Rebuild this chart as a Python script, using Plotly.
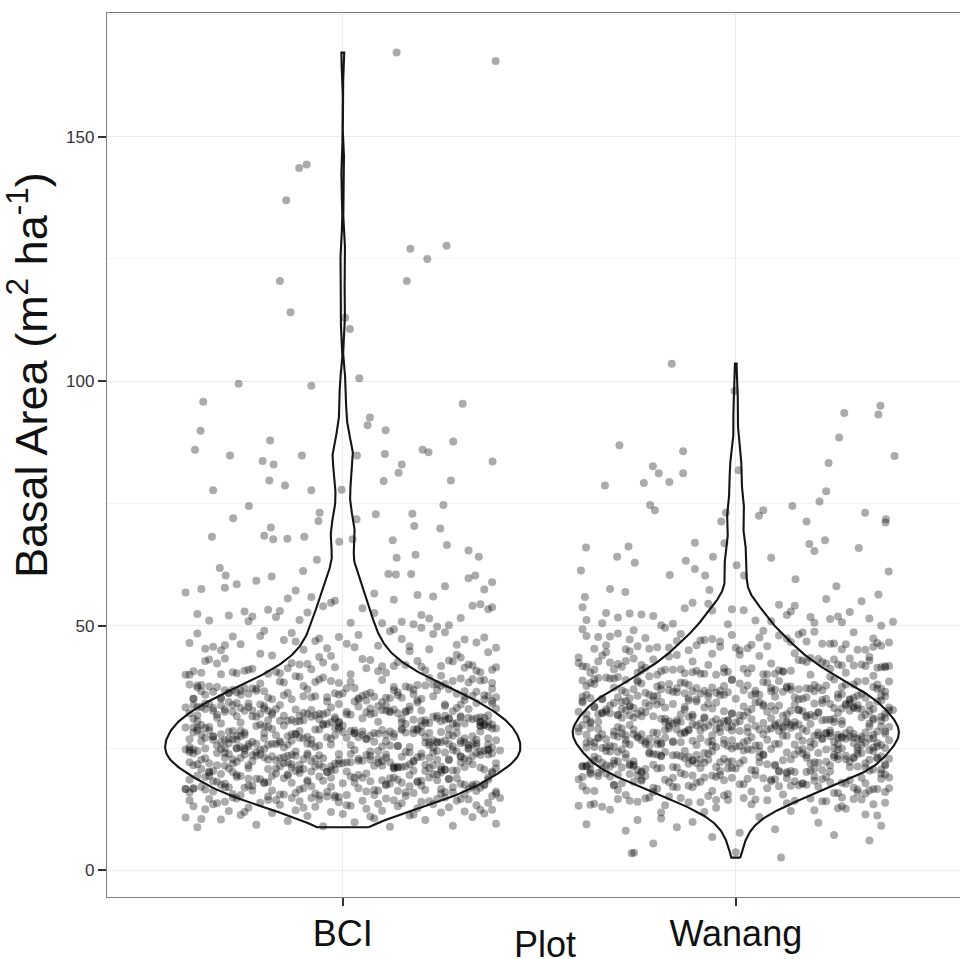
import numpy as np
import plotly.graph_objects as go

# ---------------- data ----------------
CATEGORIES = ["BCI", "Wanang"]
Y_TICKS = [0, 50, 100, 150]

# bulk of BCI quadrats (basal area, tenths of m2/ha)
BCI_CORE_TENTHS = [int(v) for v in """
88 89 90 91 93 95 98
101 103 104 106 108 109 111 112 113 115 116 117 118 119 120 121 122 123 124 125 126 127 128 129 130 131 131 132 133 134
135 135 136 137 138 138 139 140 140 141 142 142 143 143 144 145 145 146 146 147 147 148 148 149 149 105 110 114 119 124
128 133 137 141 144 146 148 149
152 157 151 163 168 155 171 159 174 166 180 153 185 177 162 189 191 170 158 183 195 164 150 176 187 198 161 172 181 156
193 167 184 178 154 190 169 196 160 186 175 182 165 199 173 188 157 194 179 192
151 162 170 184 197 155 166 177 189 158 173 182 193 160 168 186 152 179 195 164 171 188 156 175 183 198 163 190 169 154
181 196 172 159 185 176 191 167 153 180 194 165 187 178 161 174 199 170 185 192
157 168 179 190 163 176 187 154 182 195 171 159 188 166 177 193 161 184 173 197 189 180 175
203 218 241 226 209 234 247 212 221 238 205 229 244 215 232 201 224 249 210 236 219 243 207 227 240 213 231 246 202 222
237 216 248 208 230 242 225 211 235 204 220 245 228 214 239 206 233 217 223 246
200 213 227 241 208 219 236 249 204 223 232 245 211 226 238 202 216 229 243 209 221 234 247 206 218 231 240 214 225 237
201 212 228 244 207 220 233 248 205 217 230 242 210 224 239 203 215 235 246 222
219 242 206 231 214 248 225 201 237 210 244 228 216 203 233 221 240 208 226 247 212 235 204 229 243 217 238 209 223 245
202 230 215 241 224 207 236 249 211 227 220 239 205 232 218 246 213 234 200 226
211 224 237 208 243 219 230 202 246 215 228 234 205 239 221 217
252 267 281 259 294 273 255 288 262 277 298 251 284 269 290 257 275 263 296 280 254 271 286 260 293 266 278 299 253 283
270 258 291 276 264 287 256 272 295 261 282 268 289 250 279 265 297 274 285 258
261 274 288 252 266 293 279 255 283 270 297 259 276 290 263 251 285 272 295 257 268 281 299 264 277 254 289 271 294 260
282 267 253 286 275 298 262 278 291 256 269 284 250 273 296 265 280 258 287 292
270 255 284 263 298 276 251 289 267 281 258 294 273 260 286 252 279 265 297 271 283 256 290 268 277 254 292 262 285 274
259 296 280 266 253 288 275 261 293 269 282 257 299 272 264 287 278 250 291 284
263 277 252 286 270 295 259 281 267 290 274 256
301 318 335 309 327 344 312 322 339 305 331 316 348 303 325 337 311 320 342 307 329 314 333 346 302 323 338 310 319 341
306 328 315 334 300 321 345 313 326 336 308 317 343 304 330 324 340 311 332 347
303 316 329 342 307 320 333 300 314 327 340 309 322 335 305 318 331 344 302 313 326 339 308 321 334 347 304 317 330 311
324 337 301 315 328 341 306 319 332 310 323 336 345 312 325 338 303 316 330 349
305 319 332 308 321 300 314 327 339 302 311 324 336 306 317 329 341 304 313 326 310 322 334 301 318 307 325 315 337 303
320 312 328 309 331 316 323
351 368 384 357 373 390 354 362 379 396 352 366 381 358 371 387 355 363 376 393 350 369 383 359 374 353 361 378 389 356
365 372 385 398 352 360 377 367 391 354 364 380 357 370 386 351 362 375 358 382
353 366 379 394 356 363 372 388 350 368 381 355 361 376 359 370 384 352 364 373 397 357 366 378 351 360 387 354 369 374
392 358 363 380 350 367 371 385 353 365 377 356 362 389 359 375 352 368 383
402 417 431 408 424 441 405 413 428 400 419 436 410 426 403 415 433 407 421 446 401 412 429 404 418 438 409 423 406 414
432 400 420 411 427 443 403 416 435 408 422 405 413 430 401 418 425 448 407 410 439 404 415 421 428
452 468 481 457 473 490 455 463 478 496 451 466 484 459 471 487 454 462 476 493 450 469 483 458 474 453 461 479 489 456
465 472 485 498 460 477
503 518 534 509 526 541 512 521 538 505 530 547 515 524 501 519 536 508 527 544 511 522 533 506 516 540 529
553 568 581 559 574 592 556 563 578 597 551 566 585 560 572 589 575
""".split()]

# individually read high BCI quadrats: value, horizontal jitter offset
BCI_HIGH_Y = [167.2, 165.5, 143.6, 144.3, 137.0, 127.1, 127.7, 125.0, 120.5, 120.5, 114.1, 113.0, 110.7,
              100.6, 99.5, 99.1, 95.8, 95.4, 92.6, 91.0, 90.0, 89.9, 87.9, 87.7, 86.0, 86.0, 85.5, 84.8,
              84.8, 84.8, 85.1, 83.6, 83.7, 83.0, 83.0, 81.3, 79.7, 78.7, 79.6, 79.7, 77.7, 77.7, 77.8,
              74.5, 74.7, 72.0, 73.1, 71.4, 71.8, 72.8, 72.9, 70.4, 69.9, 70.1, 68.2, 68.4, 67.7, 67.8,
              68.2, 67.2, 67.7, 67.5, 66.5, 65.4, 64.1, 63.9, 64.5, 63.5, 61.8, 60.3, 60.1, 61.2, 60.6,
              60.5, 60.6, 60.3]
BCI_HIGH_DX = [0.137, 0.389, -0.111, -0.092, -0.144, 0.172, 0.264, 0.215, 0.163, -0.160, -0.133, 0.006, 0.018,
               0.042, -0.265, -0.080, -0.355, 0.305, 0.069, 0.063, 0.109, -0.362, -0.185, 0.281, -0.376, 0.203, 0.218, -0.287,
               -0.104, 0.036, 0.107, 0.381, -0.204, -0.176, 0.150, 0.142, -0.187, -0.147, 0.104, 0.275, -0.330, -0.080, -0.003,
               -0.239, 0.256, -0.279, -0.059, -0.062, 0.035, 0.084, 0.177, 0.182, 0.248, -0.183, -0.333, -0.200, -0.177, -0.141,
               -0.098, -0.009, 0.025, 0.127, 0.265, 0.320, 0.346, 0.137, 0.185, -0.066, -0.313, -0.298, -0.181, -0.101, 0.116,
               0.135, 0.174, 0.337]

# bulk of Wanang quadrats (tenths of m2/ha)
WAN_CORE_TENTHS = [int(v) for v in """
55 61 68 72 77 81 84 88 91 94 97 99
103 109 114 118 121 124 126 128 131 133 135 136 138 139 141 142 143 144 145 146 147 148 149 112 119 127 132 137 140 144
146 148 106 123 130 135 139 142 145 147 149 134 141
153 171 186 160 178 194 157 168 183 198 151 175 189 164 180 196 159 172 187 155 169 184 199 162 177 191 152 174 188 166
181 195 158 170 185 197 163 179 192 154 176 190 167 182 198 161 173 186 193 189
156 172 185 196 163 178 191 158 175 188 199 166 181 194 169 183 197 160 177 190 174 186 195 165 180 192 171 184 198 162
179 193 176 187 170 182 196 168 189 173 185 194 178 191
204 221 238 211 229 246 207 216 233 249 202 224 241 213 230 208 219 236 244 201 226 214 239 205 222 247 210 231 218 235
203 227 243 212 220 237 206 232 248 215 225 240 209 228 245 200 217 234 223 242
206 219 233 247 211 224 238 202 216 229 243 208 221 235 249 204 213 227 240 210 223 236 201 218 231 245 207 226 239 214
200 222 234 248 209 217 230 244 205 220 237 212 228 241 203 215 232 246 225 219
210 228 243 205 219 236 201 214 231 247 208 222 239 212 226 244 203 217 234 209 225 240 206 221 237 215 229 248 202 218
233 211 227 242 204 223 238 207 220 245 213 230 216 235 224
253 270 286 259 276 293 256 265 281 298 251 273 289 262 279 295 258 268 284 254 271 290 263 277 299 252 267 283 260 274
292 257 280 266 287 250 272 296 261 278 285 255 269 291 264 282 297 275 288 294
255 268 281 294 260 273 287 251 264 277 290 257 270 283 297 253 266 279 292 259 272 285 299 262 275 288 250 267 280 293
256 269 282 295 261 274 286 252 265 278 291 258 271 284 298 263 276 289 254 287
262 279 293 257 270 286 251 266 283 297 259 274 290 254 268 281 295 261 276 292 256 271 288 250 264 280 296 258 273 285
253 269 282 299 263 277 291 255 267 284 260 275 289 252 272 287 265 278 294 270
258 273 288 252 266 281 295 261 276 290 255 269 284 263 278 292 271
302 319 335 308 325 342 305 314 331 347 301 322 338 311 328 344 306 317 333 300 320 337 309 326 343 304 315 330 346 312
323 339 307 318 334 349 303 321 336 310 327 341 313 324 340 305 316 332 345 329
304 317 331 344 309 322 336 300 313 327 340 306 319 333 347 302 315 328 342 308 321 335 301 314 326 339 311 324 337 305
318 330 343 307 320 334 348 303 316 329 341 310 323 338 312 325 346 300 332 319
311 326 340 305 318 333 347 302 315 329 343 308 321 336 300 314 327 341 306 319 332 345 303 317 330 344 309 322 337 301
313 328 342 307 320 334 348 304 316 331 310 324 339 312 325 335 303 323 318 338
352 369 385 358 375 392 355 364 380 397 351 372 388 361 378 394 356 367 383 350 370 387 359 376 353 366 381 396 362 373
389 357 368 384 354 371 390 360 377 352 365 382 398 363 374 350 368 379 386 357
354 367 380 393 359 372 386 351 364 377 390 356 369 383 353 366 379 395 358 371 384 350 363 376 389 355 368 381 361 374
387 352 365 378 357 370 392 360 373 385 351 362 375 388 354 367 380 359 372 365
353 368 382 356 371 359 376 390 351 364 379 357 370 361 374 366
402 418 433 407 424 440 404 413 429 446 401 420 436 410 426 403 416 431 443 408 422 405 414 438 400 419 427 411 434 406
421 448 409 417 430 402 412 425 441 404 415 423 437 400 418 428 406 410 432 413
403 417 431 408 421 439 401 414 426 405 419 435 410 423 402 416 429 407 412 444 404 420 433 409 415 427 400 411
452 468 483 457 474 491 455 463 479 496 451 470 486 460 476 453 465 481 458 472 488 450 462 477 454 467 484 459 473 456
464 480 493 451 469 461 475 457 466 482 452 471 487 455 463 478 450 460 474 458 468 490 453
503 519 536 508 525 543 505 514 531 550 501 522 538 511 528 547 506 517 534 500 520 541 509 526 555 504 515 532 512 529
545 507 523 518
""".split()]

# individually read Wanang quadrats (high and very low values)
WAN_EXTRA_Y = [103.6, 98.0, 95.0, 93.5, 93.2, 88.5, 86.9, 85.7, 84.7, 82.6, 81.2, 81.2, 83.3, 78.7, 79.2,
               79.4, 81.8, 77.5, 75.4, 74.7, 73.6, 74.5, 73.1, 73.6, 72.5, 73.1, 71.3, 71.3, 71.8, 71.1,
               67.0, 66.9, 67.5, 66.7, 65.3, 66.0, 66.2, 65.9, 64.1, 62.9, 63.3, 64.1, 63.9, 61.3, 61.6,
               60.3, 60.4, 62.4, 60.3, 59.5, 61.1, 57.5, 56.9, 57.3, 58.1, 56.4, 55.9,
               3.5, 3.6, 2.6, 3.7]
WAN_EXTRA_DX = [-0.163, -0.003, 0.368, 0.276, 0.363, 0.263, -0.296, -0.134, 0.404, -0.211, -0.196, -0.134, 0.236, -0.333, -0.234,
                -0.169, 0.007, 0.230, 0.213, -0.218, -0.206, 0.144, -0.025, 0.070, 0.059, 0.329, -0.037, 0.180, 0.382, 0.381,
                -0.104, -0.029, 0.227, 0.187, 0.200, -0.381, -0.273, 0.313, -0.302, -0.257, -0.127, -0.058, 0.090, -0.394, -0.104,
                -0.078, -0.168, 0.002, 0.021, 0.152, 0.389, -0.320, -0.281, -0.067, 0.256, 0.363, -0.384,
                -0.265, -0.259, 0.115, 0.0]

# horizontal jitter offsets of the bulk points (hundredths of a category width)
JITTER_HUNDREDTHS = [int(v) for v in """
-37 12 -5 28 -22 39 3 -14 21 -31 8 -40 33 -9 17 -26 0 36 -18 25
-3 31 -29 10 -12 38 -35 6 19 -24 27 -7 14 -38 2 34 -16 23 -33 9
15 -21 37 -1 -30 20 -11 29 5 -39 13 -19 32 -6 24 -34 11 -27 40 -13
26 -2 -36 7 18 -25 35 -10 1 -32 22 -17 30 -8 -28 16 39 -4 -23 4
-15 33 -39 11 25 -20 -6 37 -30 14 3 -35 28 -12 20 -27 8 -1 36 -22
6 -33 17 -9 31 -18 -38 24 0 -26 13 35 -14 -4 27 -31 19 -11 38 -24
29 -7 -37 15 2 -19 34 -29 10 23 -16 -40 30 -3 18 -23 7 -34 26 -10
-21 38 -13 4 21 -36 12 -28 33 -5 -17 9 37 -25 1 -32 24 -8 16 -39
11 -27 32 -2 19 -14 -35 27 -20 6 36 -11 -30 14 -6 25 -38 3 22 -18
34 -24 8 -33 17 -3 28 -15 -40 12 -26 39 -9 20 -31 5 -19 31 -12 -2
23 -36 13 -22 37 -7 1 -29 26 -16 9 -38 30 -4 18 -25 35 -13 -34 7
-10 27 -32 16 -20 3 38 -27 11 -6 32 -17 22 -39 -1 14 -23 29 -14 36
4 -30 20 -11 33 -37 10 -21 25 -3 -28 17 39 -15 6 -35 28 -8 15 -25
31 -19 2 -34 21 -5 35 -24 12 -12 -38 26 -1 19 -30 8 -17 37 -28 13
-7 24 -36 9 30 -20 -3 33 -26 16 -13 5 38 -33 23 -9 -39 18 0 -22
36 -15 10 -31 27 -4 -25 14 -37 31 -11 21 -18 2 34 -29 7 -40 25 -6
18 -35 29 -13 -1 22 -23 40 -8 11 -32 26 4 -19 35 -27 15 -10 30 -38
-2 20 -28 37 -16 7 -34 24 -5 32 -21 13 -12 39 -30 1 28 -24 9 -14
25 -9 -39 17 -26 34 3 -18 29 -33 12 -6 22 -36 38 -15 5 -29 19 -3
-27 8 35 -20 14 -11 -37 30 -1 23 -31 16 -24 0 37 -8 -35 27 -16 10
32 -4 -22 21 -38 6 27 -30 13 -13 36 -26 2 -17 24 -33 18 -7 39 -19
9 -32 25 -10 -36 33 -2 15 -23 38 -28 4 20 -14 -39 29 -5 11 -25 34
-18 1 37 -29 16 -8 28 -34 7 -21 31 -12 -37 22 -3 35 -27 13 -15 26
3 -24 19 -40 31 -6 12 -31 36 -17 23 -1 -33 8 27 -20 -9 34 -26 17
-12 30 -5 -35 20 -19 38 -28 5 14 -38 25 -11 33 -22 0 18 -30 10 -7
28 -16 -34 6 -25 37 -4 21 -36 15 -13 32 -2 -29 24 11 -39 3 -20 35
-9 22 -27 39 -14 2 29 -32 17 -6 -23 10 36 -18 26 -37 7 -11 31 -1
16 -38 5 -21 34 -10 -30 23 -3 38 -26 12 -16 27 1 -35 20 -8 30 -24
-31 14 -4 35 -19 9 26 -37 19 -12 32 -28 -1 24 -33 6 37 -15 13 -27
21 -6 -40 28 -22 11 -34 33 -10 4 25 -18 39 -29 15 -2 -25 30 -13 8
-36 19 35 -7 -17 27 1 -31 22 -23 10 38 -14 -5 29 -38 16 -20 3 32
12 -28 -3 24 -35 36 -11 7 -26 18 -39 31 -8 20 -21 -1 34 -30 26 -16
37 -12 -24 9 30 -33 15 -4 -37 21 2 -19 28 -27 11 35 -9 -32 17 -2
-20 26 6 -38 13 -15 33 -25 -6 39 -29 19 -11 4 -36 24 14 -22 -3 31
7 -34 22 -13 -28 38 -1 17 -19 29 -37 10 -7 34 -23 2 25 -31 18 -10
-26 33 -8 14 -39 5 27 -16 20 -2 -32 36 -21 11 31 -36 -5 23 -14 1
35 -18 -30 26 8 -24 16 -35 -9 32 12 -27 3 -12 37 -20 21 -38 6 28
-4 18 -37 30 -15 -29 23 4 -22 38 -7 15 -33 25 -10 0 36 -26 13 -31
24 -1 -19 10 -34 34 -13 29 -28 6 19 -39 33 -6 -24 14 -16 39 -30 9
-11 37 2 -23 27 -36 13 -3 21 -32 -17 31 5 -40 16 -8 28 -21 -27 20
30 -25 -9 35 -14 7 -31 25 -5 17 -38 38 -18 11 -2 32 -35 22 -12 4
-33 15 -20 39 1 -28 20 -10 34 -37 9 -15 26 -4 -26 36 13 -31 -7 23
17 -6 -35 29 -21 12 3 -39 31 -13 24 -30 -1 18 -17 37 -24 8 33 -11
-29 38 10 -16 -3 22 -37 27 -23 5 15 -9 35 -34 20 -19 2 30 -5 -25
13 -40 26 -8 36 -22 -14 19 -30 32 -2 8 -27 23 -12 38 -36 4 -18 27
-5 28 -32 14 -19 33 6 -25 -11 21 -38 37 -15 10 -28 1 25 -6 34 -21
""".split()]

# ---------------- assemble ----------------
POS = {"BCI": 1.0, "Wanang": 2.0}
VIOLIN_HALF = {"BCI": 0.452, "Wanang": 0.415}   # max half-width

def core_points(tenths, jit):
    ys = np.array(tenths, dtype=float) / 10.0
    js = np.array([jit[i % len(jit)] for i in range(len(ys))], dtype=float) / 100.0
    return ys, js

bci_y, bci_dx = core_points(BCI_CORE_TENTHS, JITTER_HUNDREDTHS)
wan_y, wan_dx = core_points(WAN_CORE_TENTHS, JITTER_HUNDREDTHS[::-1])

groups = {
    "BCI": (np.concatenate([bci_y, BCI_HIGH_Y]), np.concatenate([bci_dx, BCI_HIGH_DX])),
    "Wanang": (np.concatenate([wan_y, WAN_EXTRA_Y]), np.concatenate([wan_dx, WAN_EXTRA_DX])),
}

def bw_nrd0(y):
    sd = np.std(y, ddof=1)
    q75, q25 = np.percentile(y, [75, 25])
    lo = min(sd, (q75 - q25) / 1.34)
    return 0.9 * lo * len(y) ** (-0.2)

def violin_outline(y, center, half):
    grid = np.linspace(y.min(), y.max(), 512)
    bw = bw_nrd0(y)
    dens = np.exp(-0.5 * ((grid[:, None] - y[None, :]) / bw) ** 2).sum(axis=1)
    w = dens / dens.max() * half
    xs = np.concatenate([center + w, (center - w)[::-1], [center + w[0]]])
    ys = np.concatenate([grid, grid[::-1], [grid[0]]])
    return xs, ys

fig = go.Figure()
for name in CATEGORIES:
    y, dx = groups[name]
    fig.add_trace(go.Scatter(
        x=POS[name] + dx, y=y, mode="markers",
        marker=dict(size=8, color="rgba(0,0,0,0.33)", line=dict(width=0)),
        hoverinfo="skip", showlegend=False))
for name in CATEGORIES:
    y, _ = groups[name]
    vx, vy = violin_outline(y, POS[name], VIOLIN_HALF[name])
    fig.add_trace(go.Scatter(
        x=vx, y=vy, mode="lines", line=dict(color="#151515", width=2.1),
        hoverinfo="skip", showlegend=False))

FONT = "Liberation Sans, Arial, Helvetica, sans-serif"
fig.update_layout(
    width=960, height=959,
    margin=dict(l=107, r=0, t=13, b=62),
    plot_bgcolor="white", paper_bgcolor="white",
    font=dict(family=FONT, color="#111"),
    showlegend=False,
    xaxis=dict(
        range=[0.4, 2.5705], tickvals=[POS[c] for c in CATEGORIES], ticktext=CATEGORIES,
        showgrid=True, gridcolor="#ebebeb", gridwidth=1.2, zeroline=False,
        showline=True, linecolor="#7f7f7f", linewidth=1.3, mirror=True,
        ticks="outside", ticklen=8, tickwidth=1.5, tickcolor="#333",
        ticklabelstandoff=-3,
        tickfont=dict(size=36, color="#111", family=FONT),
    ),
    yaxis=dict(
        range=[-5.46, 175.3], tickvals=Y_TICKS,
        showgrid=True, gridcolor="#ebebeb", gridwidth=1.2, zeroline=False,
        minor=dict(tickvals=[25, 75, 125, 175], showgrid=True, gridcolor="#f4f4f4", gridwidth=1),
        showline=True, linecolor="#7f7f7f", linewidth=1.3, mirror=False,
        ticks="outside", ticklen=8, tickwidth=1.5, tickcolor="#333",
        tickfont=dict(size=17, color="#333", family=FONT),
    ),
    annotations=[
        dict(text="Basal Area (m<sup>2</sup> ha<sup>-1</sup>)", textangle=-90,
             xref="paper", yref="paper", x=(28 - 107) / 853, y=1 - (375 - 13) / 884,
             xanchor="center", yanchor="middle", showarrow=False,
             font=dict(size=45, color="#111", family=FONT)),
        dict(text="Plot", xref="paper", yref="paper",
             x=(545 - 107) / 853, y=-(944 - 897) / 884,
             xanchor="center", yanchor="middle", showarrow=False,
             font=dict(size=36, color="#111", family=FONT)),
    ],
)

fig.write_html("out.html", config={"displayModeBar": False},
               post_script="document.body.style.margin='0';document.body.style.overflow='hidden';")
